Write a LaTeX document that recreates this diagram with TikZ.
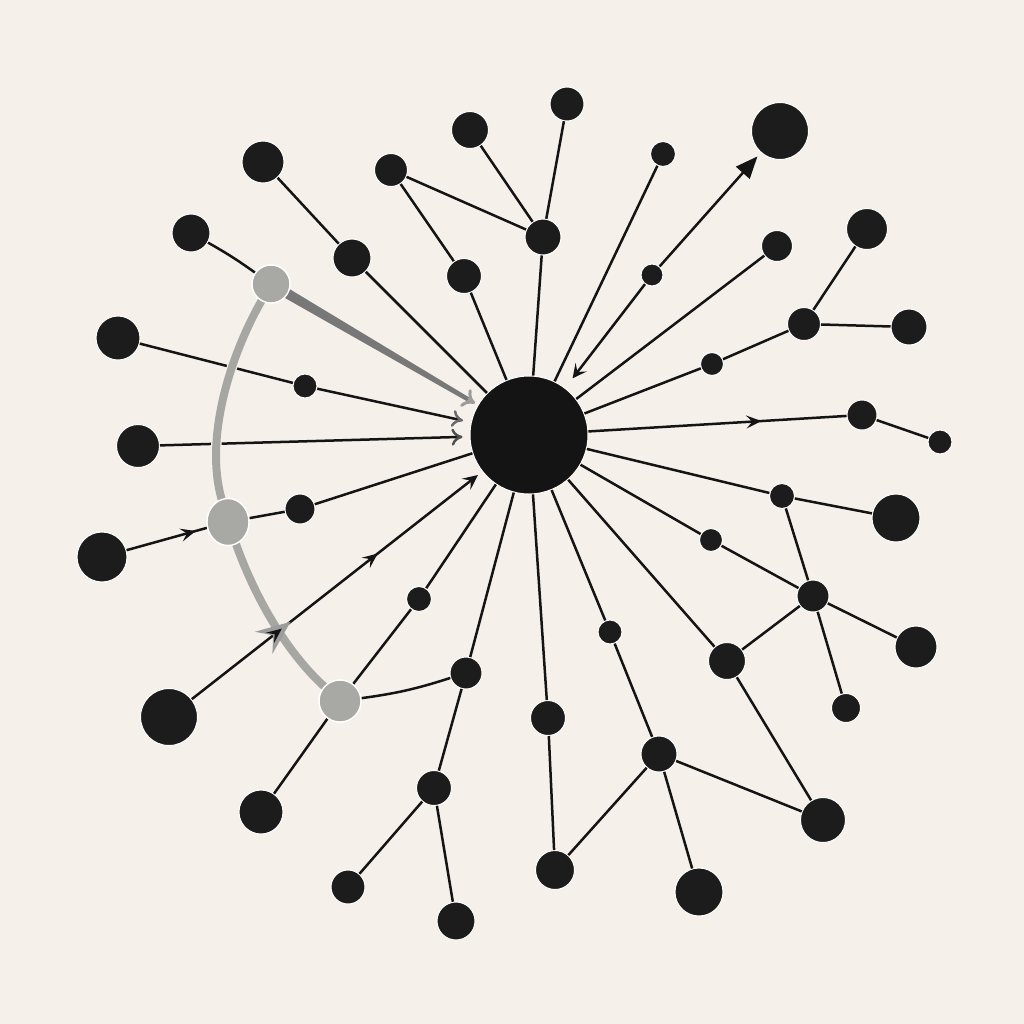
\documentclass[tikz,border=0pt]{standalone}
\usetikzlibrary{arrows.meta,calc,decorations.markings,shapes.geometric}
\definecolor{bg}{HTML}{F5F1EA}
\definecolor{ink}{HTML}{141414}
\definecolor{dotc}{HTML}{1C1C1C}
\definecolor{gnode}{HTML}{A8A8A5}
\definecolor{gcurve}{HTML}{A6A6A3}
\definecolor{gdark}{HTML}{787878}
\definecolor{gbarb}{HTML}{9C9C9C}
\definecolor{barbA}{HTML}{6A6A6A}
\definecolor{barbB}{HTML}{505050}
\newcommand\dotn[4]{\node[dot,minimum size=#4pt] (#1) at (#2,#3) {};}
\begin{document}
\begin{tikzpicture}[x=0.5pt,y=-0.5pt,
  dot/.style={circle,fill=dotc,draw=white,line width=0.5pt,inner sep=0pt},
  gdot/.style={circle,fill=gnode,draw=white,line width=0.7pt,inner sep=0pt},
  link/.style={draw=ink,line width=1.25pt},
  gline/.style={draw=gcurve,line width=4pt,line cap=round,preaction={draw=bg,line width=5.2pt}},
  marr/.style={postaction={decorate},decoration={markings,mark=at position #1 with {\arrow{Stealth[length=7.5pt,width=6.5pt,inset=3pt]}}}}]
\fill[bg] (0,0) rectangle (1024,1024);
\useasboundingbox (0,0) rectangle (1024,1024);

% hub and nodes
\node[dot,fill=ink,minimum size=59pt] (hub) at (529,435) {};
\dotn{n1}{263}{162}{21}
\dotn{n2}{191}{233}{19}
\node[gdot,minimum size=19pt] (g1) at (271,284) {};
\dotn{n3}{118}{338}{22}
\dotn{n4}{305}{386}{12}
\dotn{n5}{138}{446}{21.5}
\node[gdot,ellipse,minimum width=21pt,minimum height=23.5pt] (g2) at (228,522) {};
\dotn{n6}{300}{509}{15}
\dotn{n7}{102}{557}{25}
\dotn{n8}{169}{717}{28.5}
\node[gdot,minimum size=21pt] (g3) at (340,701) {};
\dotn{n9}{419}{599}{12.5}
\dotn{n10}{466}{673}{16}
\dotn{n11}{261}{812}{22}
\dotn{n12}{434}{788}{17.5}
\dotn{n13}{348}{887}{17}
\dotn{n14}{456}{921}{19}
\dotn{n15}{548}{718}{17.5}
\dotn{n16}{555}{870}{19.5}
\dotn{n17}{610}{632}{12}
\dotn{n18}{659}{754}{18}
\dotn{n19}{699}{892}{24}
\dotn{n20}{823}{820}{22.5}
\dotn{n21}{727}{661}{18.5}
\dotn{n22}{711}{540}{11.5}
\dotn{n23}{813}{596}{16}
\dotn{n24}{846}{708}{14.5}
\dotn{n25}{916}{647}{21}
\dotn{n26}{782}{496}{12.5}
\dotn{n27}{896}{518}{24}
\dotn{n28}{862}{415}{15}
\dotn{n29}{940}{442}{12}
\dotn{n30}{712}{364}{11.5}
\dotn{n31}{804}{324}{16.5}
\dotn{n32}{909}{327}{18}
\dotn{n33}{867}{229}{20.5}
\dotn{n34}{777}{246}{15.5}
\dotn{n35}{652}{275}{11}
\dotn{n36}{780}{131}{28.5}
\dotn{n37}{663}{154}{12.5}
\dotn{n38}{567}{104}{17}
\dotn{n39}{543}{237}{18}
\dotn{n40}{470}{130}{18.5}
\dotn{n41}{391}{170}{16.5}
\dotn{n42}{352}{258}{19}
\dotn{n43}{464}{276}{17.5}

% plain links
\foreach \a/\b in {n1/n42,n42/hub,n41/n43,n43/hub,n41/n39,n40/n39,n38/n39,n39/hub,
  n37/hub,n34/hub,n30/hub,n30/n31,n31/n33,n31/n32,n28/n29,n26/hub,n26/n27,n26/n23,
  n22/hub,n22/n23,n23/n25,n23/n24,n23/n21,n21/hub,n21/n20,n17/hub,n17/n18,n18/n19,
  n18/n20,n18/n16,n15/hub,n15/n16,n10/hub,n10/n12,n12/n13,n12/n14,n9/hub,g3/n9,
  g3/n11,n6/hub,g2/n6,n3/n4}
  \draw[link] (\a) -- (\b);
\draw[link] (g3) to[bend right=5] (n10);
\draw[link] (n2) to[bend left=3] (g1);

% arrowed links
\draw[link,shorten >=6pt,-{Stealth[length=7pt,width=7pt,inset=3pt]}] (n35) -- (hub);
\draw[link,shorten >=2.5pt,-{Triangle[length=11pt,width=9pt]}] (n35) -- (n36);
\draw[link,marr=0.67] (hub) -- (n28);
\draw[link,shorten >=4pt,-{Computer Modern Rightarrow[length=5.5pt,width=8.5pt,color=barbA]}] (n4) -- (hub);
\draw[link,shorten >=3.5pt,-{Computer Modern Rightarrow[length=5.5pt,width=8.5pt,color=barbB]}] (n5) -- (hub);
\draw[link,marr=0.86] (n7) -- (g2);

% thick tapered grey arrow
\coordinate (gtip) at ($(hub)!31.3pt!(g1)$);
\coordinate (ga) at ($(g1)!9.5pt!(hub)$);
\coordinate (gb) at ($(gtip)!4pt!(g1)$);
\fill[gdark] ($(ga)!2.5pt!90:(hub)$) -- ($(gb)!1.1pt!90:(hub)$) -- ($(gb)!1.1pt!-90:(hub)$) -- ($(ga)!2.5pt!-90:(hub)$) -- cycle;
\draw[gbarb,line width=1.5pt,-{Computer Modern Rightarrow[length=6pt,width=10pt]}] (gb) -- (gtip);

% grey curve
\draw[gline] (g1) .. controls (228,360) and (205,440) .. (g2);
\draw[gline] (g2) .. controls (258,605) and (290,655) .. (g3);

% long arrowed link from n8
\draw[link,shorten >=2.7pt,-{Stealth[length=7.5pt,width=7pt,inset=3pt]},
  postaction={decorate},decoration={markings,
    mark=at position 0.34 with {\arrow{Stealth[length=17pt,width=14pt,inset=6pt,color=gbarb]}},
    mark=at position 0.31 with {\arrow{Stealth[length=7.5pt,width=6.5pt,inset=3pt]}},
    mark=at position 0.64 with {\arrow{Stealth[length=7.5pt,width=6.5pt,inset=3pt]}}}]
  (n8) -- (hub);

% redraw grey nodes on top
\node[gdot,minimum size=19pt] at (g1) {};
\node[gdot,ellipse,minimum width=21pt,minimum height=23.5pt] at (g2) {};
\node[gdot,minimum size=21pt] at (g3) {};
\end{tikzpicture}
\end{document}
